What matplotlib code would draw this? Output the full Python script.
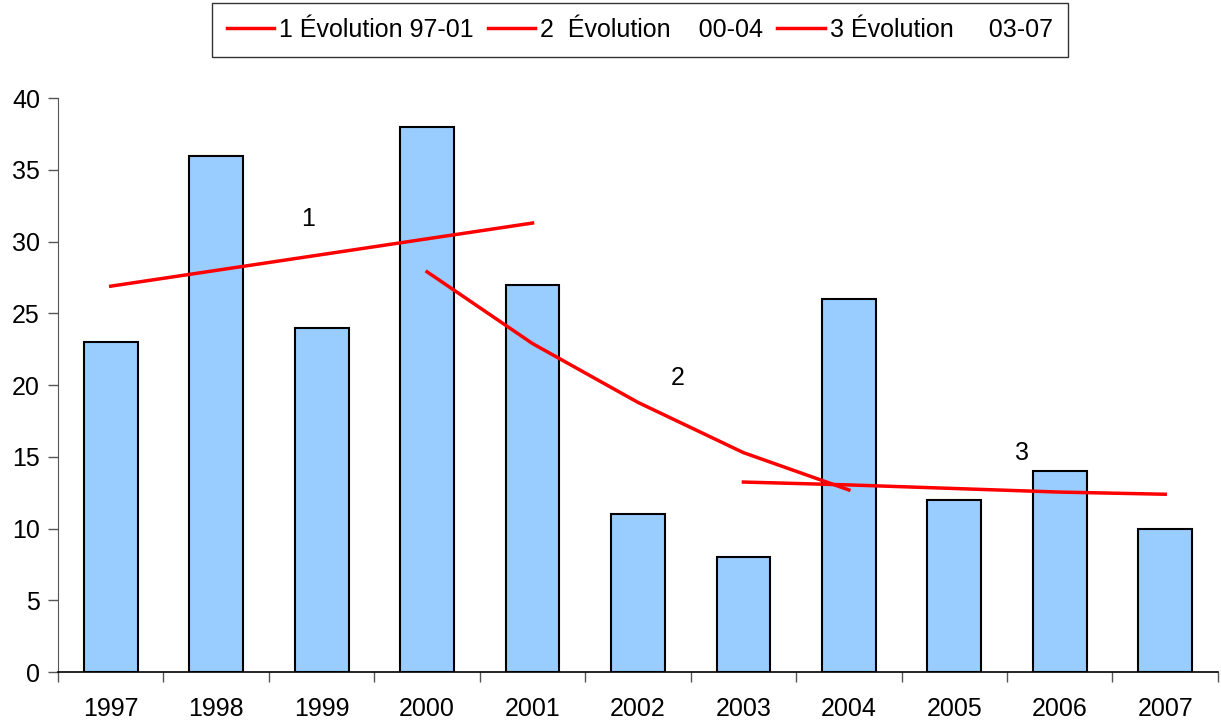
import matplotlib.pyplot as plt
import numpy as np

plt.rcParams["font.family"] = ["Liberation Sans", "DejaVu Sans"]

# Nombre par année
annees = ["1997", "1998", "1999", "2000", "2001", "2002", "2003", "2004", "2005", "2006", "2007"]
valeurs = [23, 36, 24, 38, 27, 11, 8, 26, 12, 14, 10]

# Courbes de tendance (indices d'années, valeurs)
evol1_idx = [0, 1, 2, 3, 4]
evol1_val = [26.9, 28.0, 29.1, 30.2, 31.3]
evol2_idx = [3, 4, 5, 6, 7]
evol2_val = [27.9, 22.9, 18.8, 15.3, 12.7]
evol3_idx = [6, 7, 8, 9, 10]
evol3_val = [13.25, 13.05, 12.8, 12.55, 12.4]

legendes = ["1 Évolution 97-01", "2  Évolution    00-04", "3 Évolution     03-07"]

fig = plt.figure(figsize=(12.21, 7.22), dpi=100)
ax = fig.add_axes([0.0475, 0.069, 0.95, 0.795])

x = np.arange(len(annees))
ax.bar(x, valeurs, width=0.51, color="#99CCFF", edgecolor="black", linewidth=1.5, zorder=2)

l1, = ax.plot(evol1_idx, evol1_val, color="red", lw=2.5, zorder=3)
l2, = ax.plot(evol2_idx, evol2_val, color="red", lw=2.5, zorder=3)
l3, = ax.plot(evol3_idx, evol3_val, color="red", lw=2.5, zorder=3)

ax.text(1.87, 31.6, "1", fontsize=18, ha="center", va="center")
ax.text(5.38, 20.5, "2", fontsize=18, ha="center", va="center")
ax.text(8.64, 15.3, "3", fontsize=18, ha="center", va="center")

ax.set_xlim(-0.5, len(annees) - 0.5)
ax.set_ylim(0, 40)
ax.set_yticks(range(0, 41, 5))
ax.set_xticks(x)
ax.set_xticklabels(annees)
ax.set_xticks(np.arange(-0.5, len(annees), 1), minor=True)
ax.tick_params(axis="x", which="major", length=0, labelsize=18, pad=18)
ax.tick_params(axis="x", which="minor", length=7, width=1, color="#555555")
ax.tick_params(axis="y", length=7, width=1, color="#555555", labelsize=18, pad=6)

for cote in ["top", "right"]:
    ax.spines[cote].set_visible(False)
ax.spines["left"].set_color("#555555")
ax.spines["bottom"].set_color("black")
ax.spines["bottom"].set_linewidth(1.2)

leg = fig.legend([l1, l2, l3], legendes, loc="upper center", bbox_to_anchor=(0.524, 0.996),
                 ncol=3, fontsize=18, frameon=True, fancybox=False, edgecolor="black",
                 handlelength=1.9, handletextpad=0.2, columnspacing=0.55, borderpad=0.6,
                 borderaxespad=0)
leg.get_frame().set_linewidth(1.0)

fig.savefig("out.png", dpi=100)
